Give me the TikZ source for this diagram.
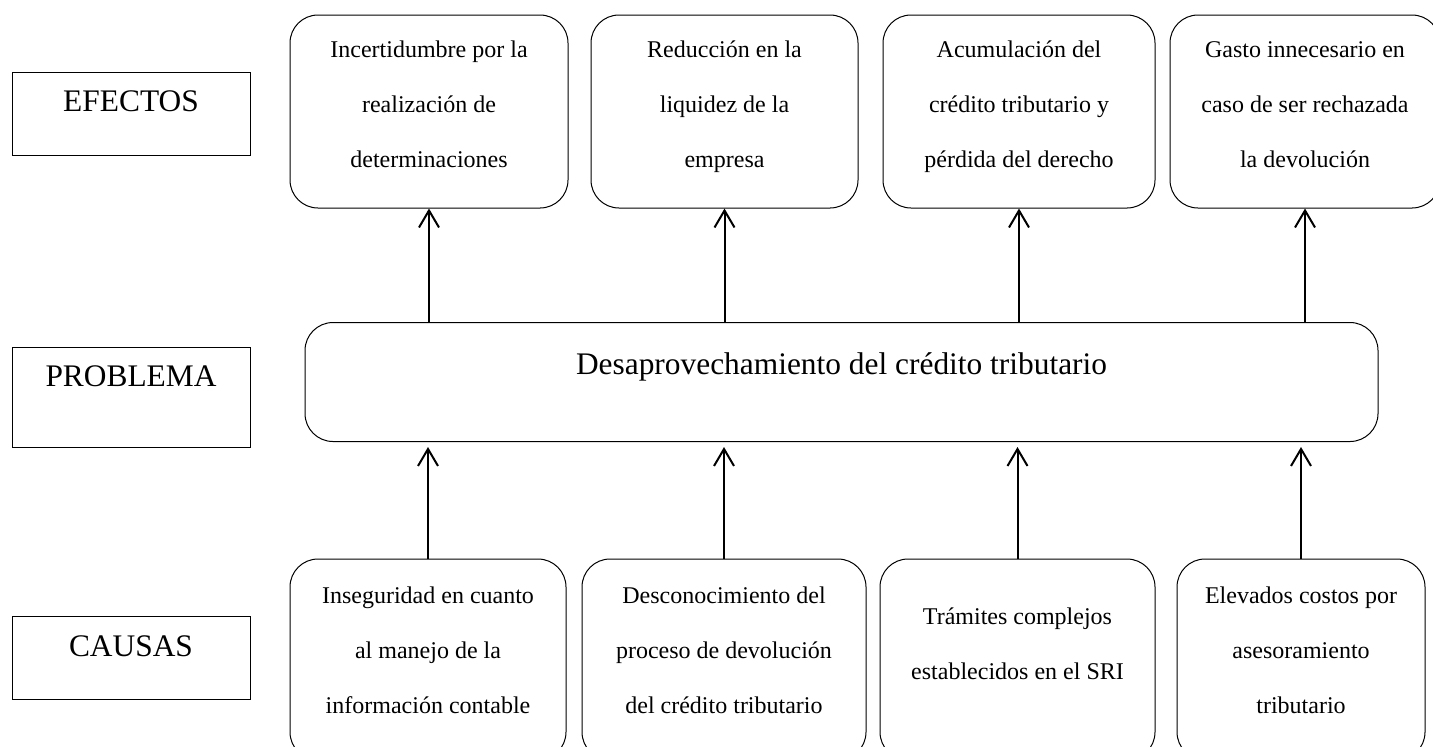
\documentclass[tikz,border=0pt]{standalone}
\usepackage{fontspec}
\setmainfont{Liberation Serif}
\usetikzlibrary{arrows.meta}
\tikzset{
  etiqueta/.style={draw, line width=0.5pt, inner sep=0pt, anchor=north,
    minimum width=119pt, text height=19.5pt, font=\fontsize{15.7}{18}\selectfont},
  caja/.style={draw, line width=0.5pt, rounded corners=14pt, align=center,
    inner sep=0pt, font=\fontsize{12}{27.5}\selectfont},
  subir/.style={execute at end node={\rule[-#1]{0pt}{0pt}}},
  flecha/.style={line width=1pt, -{Straight Barb[length=8.5pt,width=10pt]}}
}
\begin{document}
\begin{tikzpicture}[x=0.5pt,y=-0.5pt]
\useasboundingbox (0,0) rectangle (1433,746);
\clip (0,0) rectangle (1433,746);
% etiquetas de la izquierda
\node[etiqueta,text depth=22pt] (efectos) at (131,72) {EFECTOS};
\node[etiqueta,text depth=30.5pt] (problemalbl) at (131,347) {PROBLEMA};
\node[etiqueta,text height=20pt,text depth=21.5pt] (causas) at (131,616) {CAUSAS};
% problema central
\node[draw, line width=0.5pt, rounded corners=14pt, inner sep=0pt, anchor=north,
  minimum width=536.5pt, text height=26pt, text depth=33.5pt,
  font=\fontsize{15.7}{18}\selectfont] (problema) at (841.5,322)
  {Desaprovechamiento del cr\'edito tributario};
% efectos
\tikzset{efecto/.style={caja,subir=7pt,minimum height=96.5pt}}
\node[efecto,minimum width=139pt] (e1) at (429,111.5)
  {Incertidumbre por la\\realizaci\'on de\\determinaciones};
\node[efecto,minimum width=133.5pt] (e2) at (724.5,111.5)
  {Reducci\'on en la\\liquidez de la\\empresa};
\node[efecto,minimum width=136pt] (e3) at (1019,111.5)
  {Acumulaci\'on del\\cr\'edito tributario y\\p\'erdida del derecho};
\node[efecto,minimum width=135pt] (e4) at (1305,111.5)
  {Gasto innecesario en\\caso de ser rechazada\\la devoluci\'on};
% causas
\tikzset{causa/.style={caja,minimum height=100.5pt}}
\node[causa,subir=9pt,minimum width=138pt] (c1) at (428,659.5)
  {Inseguridad en cuanto\\al manejo de la\\informaci\'on contable};
\node[causa,subir=9pt,minimum width=142pt] (c2) at (724,659.5)
  {Desconocimiento del\\proceso de devoluci\'on\\del cr\'edito tributario};
\node[causa,subir=16pt,minimum width=137.5pt] (c3) at (1017.5,659.5)
  {Tr\'amites complejos\\establecidos en el SRI};
\node[causa,subir=9pt,minimum width=124pt] (c4) at (1301,659.5)
  {Elevados costos por\\asesoramiento\\tributario};
% flechas
\foreach \i in {1,...,4}{
  \draw[flecha] (problema.north -| e\i.south) -- (e\i.south);
  \draw[flecha,shorten >=2.5pt] (c\i.north) -- (problema.south -| c\i.north);
}
\end{tikzpicture}
\end{document}
